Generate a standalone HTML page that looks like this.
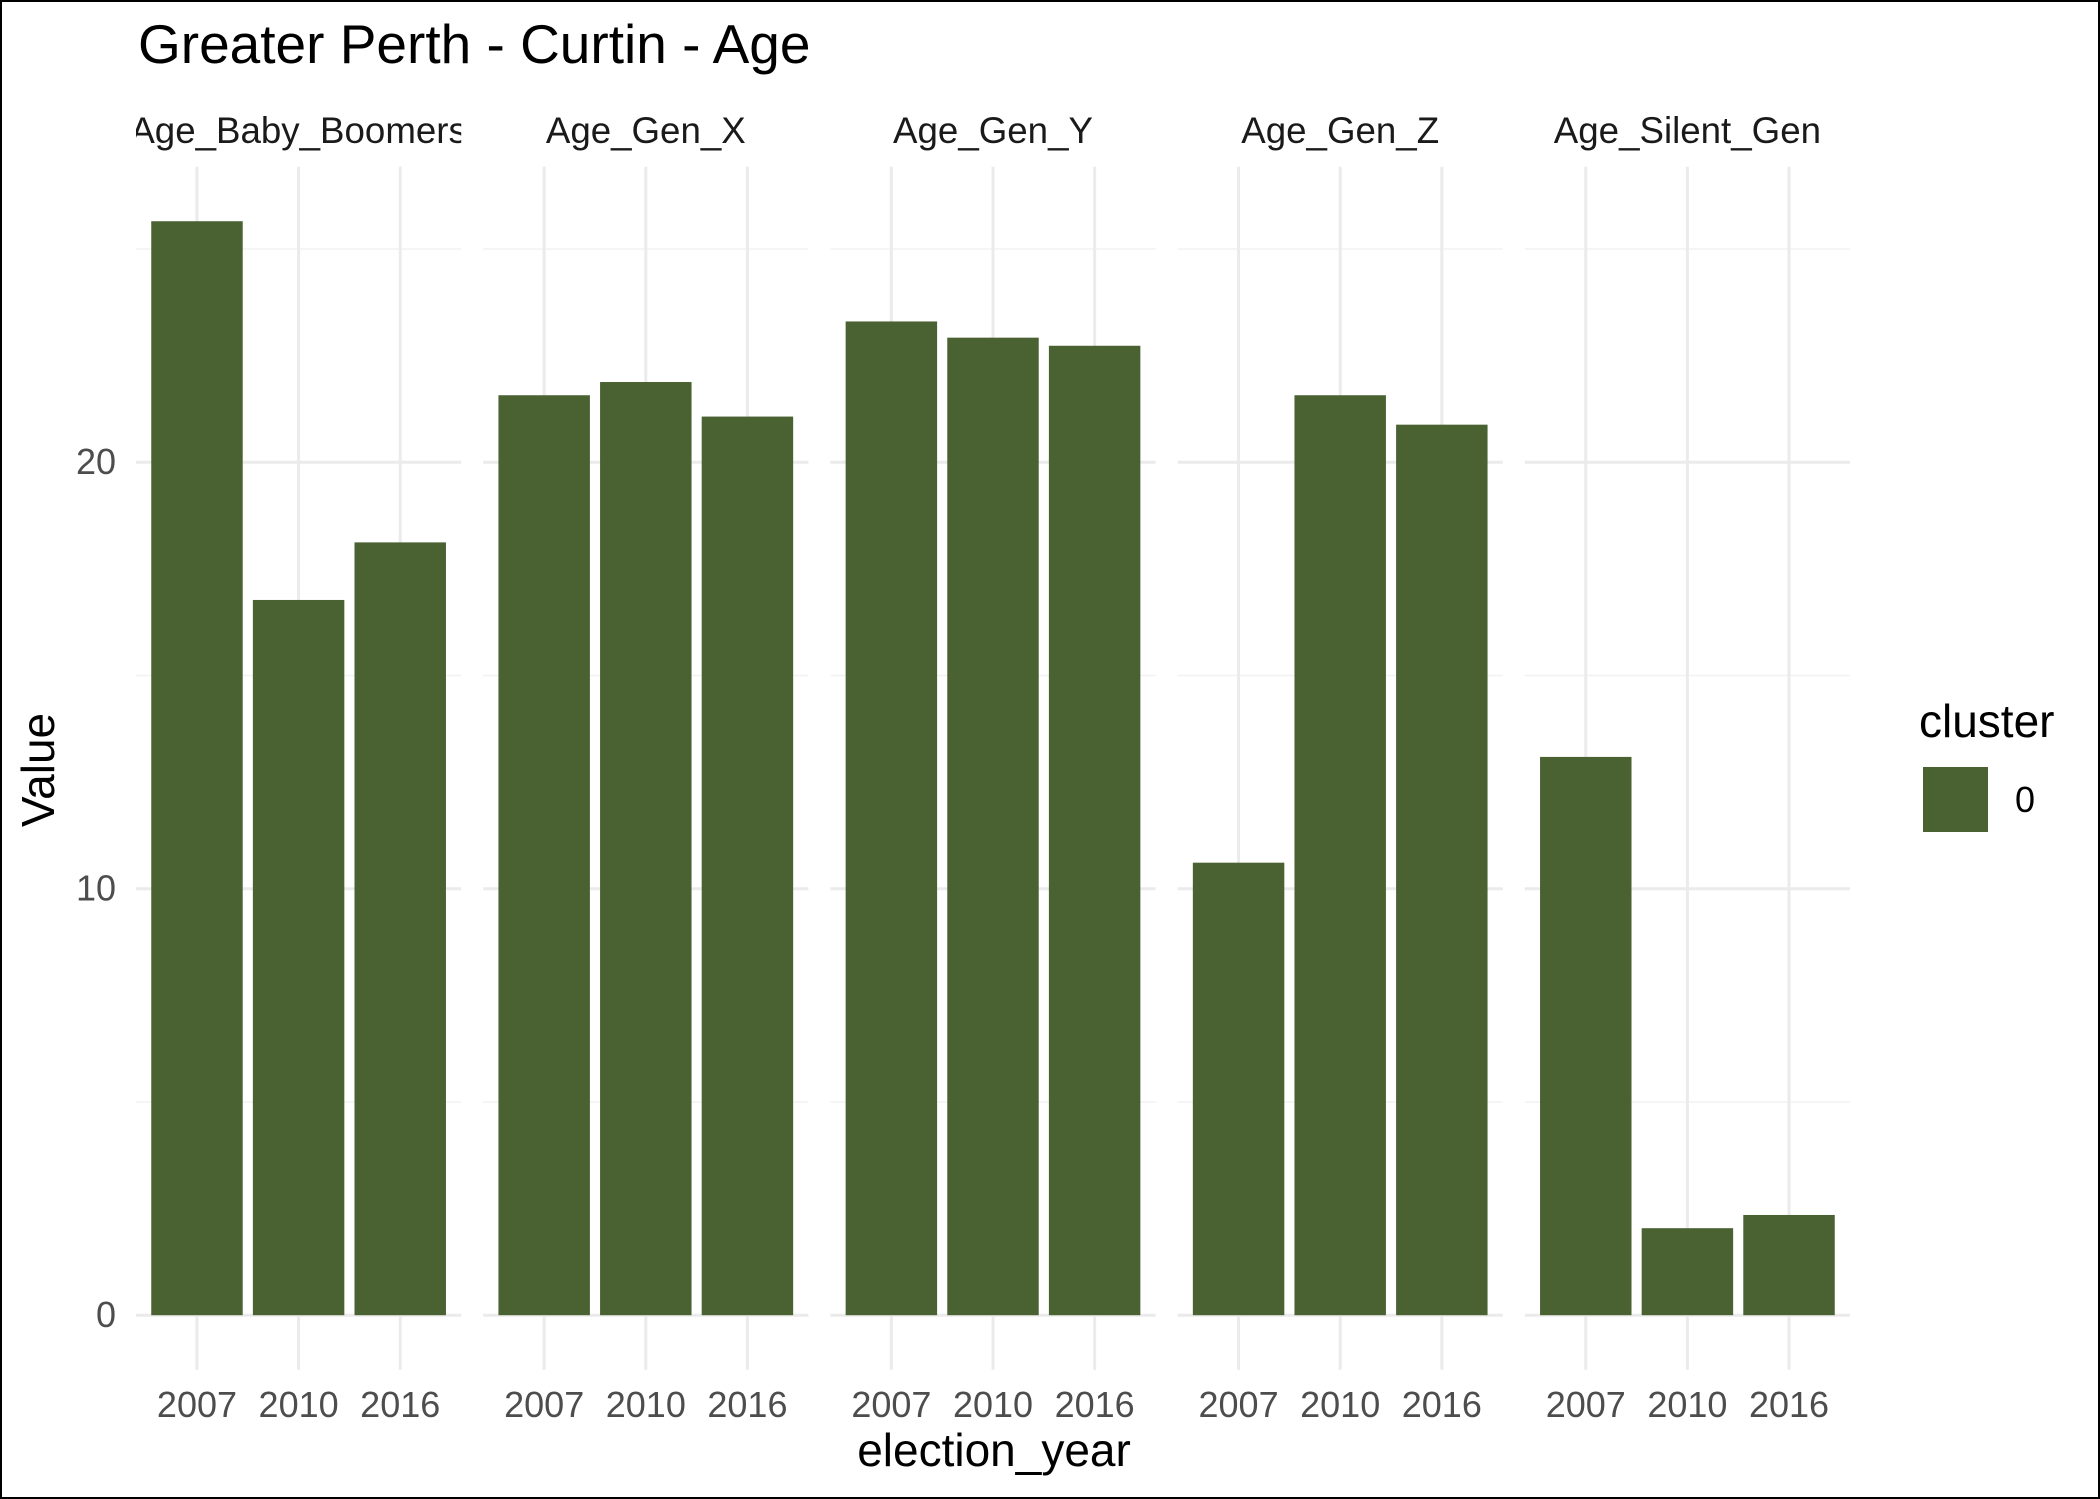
<!DOCTYPE html>
<html><head><meta charset="utf-8"><style>
html,body{margin:0;padding:0;background:#fff}
svg{display:block;font-family:"Liberation Sans",Arial,sans-serif}
</style></head><body>
<svg id="chart" width="2100" height="1499" viewBox="0 0 2100 1499">
<rect x="1" y="1" width="2098" height="1497" fill="#fff" stroke="#000" stroke-width="2"/>
<text x="138" y="63" font-size="55" fill="#000">Greater Perth - Curtin - Age</text>
<g id="panels"></g>
<text x="994" y="1466" font-size="46" text-anchor="middle" fill="#000">election_year</text>
<text transform="translate(54,770) rotate(-90)" font-size="46" text-anchor="middle" fill="#000">Value</text>
<g>
<text x="1919" y="737" font-size="46" fill="#000">cluster</text>
<rect x="1923" y="767" width="65" height="65" fill="#4a6131"/>
<text x="2015" y="812" font-size="36" fill="#000">0</text>
</g>
</svg>
<script>
const panelNames = ["Age_Baby_Boomers","Age_Gen_X","Age_Gen_Y","Age_Gen_Z","Age_Silent_Gen"];
const years = ["2007","2010","2016"];
const values2007 = [25.65,21.57,23.3,10.61,13.09];
const values2010 = [16.77,21.88,22.92,21.57,2.04];
const values2016 = [18.12,21.07,22.73,20.88,2.35];
const yTicks = [0,10,20];
const yMinor = [5,15,25];

const NS="http://www.w3.org/2000/svg";
const g=document.getElementById('panels');
const panelW=325.2, gap=22, left0=136;
const y0=1315.2, perUnit=42.65;
const yScale=v=>y0-v*perUnit;
const panelTop=yScale(26.93), panelBot=yScale(-1.28);
const unit=panelW/3.2;
function mk(tag,attrs){const e=document.createElementNS(NS,tag);for(const k in attrs)e.setAttribute(k,attrs[k]);return e;}
const series=[values2007,values2010,values2016];
panelNames.forEach((name,p)=>{
  const px=left0+p*(panelW+gap);
  const xScale=i=>px+unit*(0.6+i);
  const pg=mk('g',{});
  
  
  g.appendChild(pg);
  yMinor.forEach(v=>{const l=mk('line',{x1:px,x2:px+panelW,y1:yScale(v),y2:yScale(v),stroke:'#f2f2f2','stroke-width':1.5});
    pg.appendChild(l);});
  yTicks.forEach(v=>{const l=mk('line',{x1:px,x2:px+panelW,y1:yScale(v),y2:yScale(v),stroke:'#ebebeb','stroke-width':3});
    pg.appendChild(l);});
  years.forEach((yr,i)=>{const l=mk('line',{x1:xScale(i),x2:xScale(i),y1:panelTop,y2:panelBot,stroke:'#ebebeb','stroke-width':3});
    pg.appendChild(l);});
  years.forEach((yr,i)=>{const v=series[i][p];const bw=unit*0.9;
    const r=mk('rect',{x:xScale(i)-bw/2,y:yScale(v),width:bw,height:y0-yScale(v),fill:'#4a6131'});
    
    pg.appendChild(r);
    const t=mk('text',{x:xScale(i),y:1417,'font-size':36,'text-anchor':'middle',fill:'#4d4d4d'});t.textContent=yr;
    pg.appendChild(t);});
  const cp=mk('clipPath',{id:'clip'+p});cp.appendChild(mk('rect',{x:px,y:90,width:panelW,height:80}));pg.appendChild(cp);
  const st=mk('text',{x:px+panelW/2,y:143,'font-size':36.7,'text-anchor':'middle',fill:'#1a1a1a','clip-path':'url(#clip'+p+')'});
  st.textContent=name;
  pg.appendChild(st);
});
yTicks.forEach(v=>{const t=mk('text',{x:116,y:yScale(v)+12,'font-size':36,'text-anchor':'end',fill:'#4d4d4d'});t.textContent=v;
  g.appendChild(t);});
</script>
</body></html>
